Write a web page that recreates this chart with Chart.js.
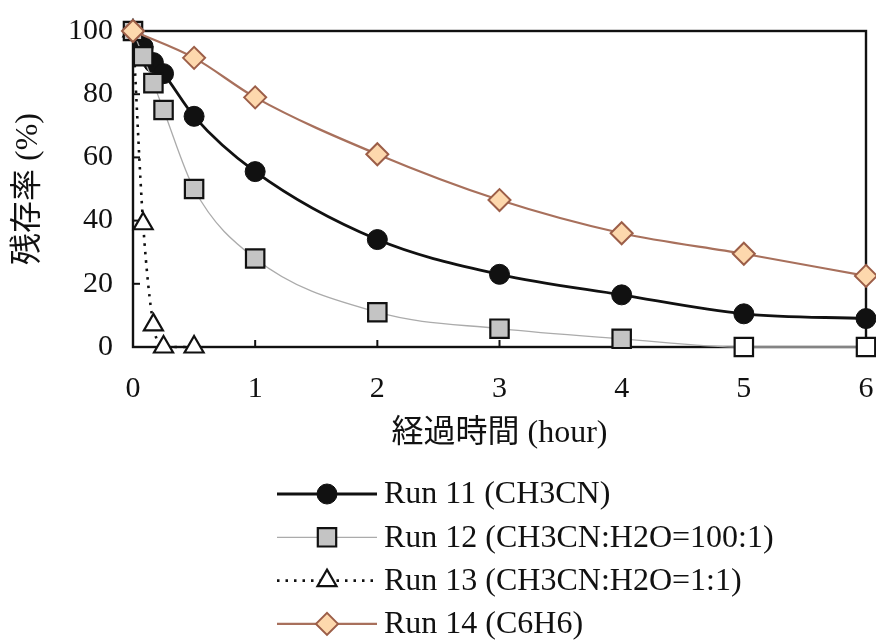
<!DOCTYPE html>
<html>
<head>
<meta charset="utf-8">
<script src="https://cdn.jsdelivr.net/npm/chart.js@4/dist/chart.umd.min.js"></script>
<style>
  html, body { margin: 0; padding: 0; background: #ffffff; }
  #wrap { width: 876px; height: 642px; position: relative; }
</style>
</head>
<body>
<div id="wrap"><canvas id="c" width="876" height="642"></canvas></div>
<script>
// Elapsed time (hour) and residual ratio (%) for each run
const run11Time  = [0, 0.083, 0.167, 0.25, 0.5, 1, 2, 3, 4, 5, 6];
const run11Value = [100, 95, 90, 86.5, 73, 55.5, 34, 23, 16.5, 10.5, 9];

const run12Time  = [0, 0.083, 0.167, 0.25, 0.5, 1, 2, 3, 4, 5, 6];
const run12Value = [100, 92, 83.5, 75, 50, 28, 11, 5.8, 2.6, 0, 0];

const run13Time  = [0, 0.083, 0.167, 0.25, 0.5];
const run13Value = [100, 39, 7, 0, 0];

const run14Time  = [0, 0.5, 1, 2, 3, 4, 5, 6];
const run14Value = [100, 91.5, 79, 61, 46.5, 36, 29.5, 22.5];

const seriesLabels = [
  'Run 11 (CH3CN)',
  'Run 12 (CH3CN:H2O=100:1)',
  'Run 13 (CH3CN:H2O=1:1)',
  'Run 14 (C6H6)'
];
const xTicks = [0, 1, 2, 3, 4, 5, 6];
const yTicks = [0, 20, 40, 60, 80, 100];
const xTitle = '経過時間 (hour)';
const yTitle = '残存率 (%)';

const toPoints = (xs, ys) => xs.map((x, i) => ({ x: x, y: ys[i] }));

const SERIF = '"Liberation Serif", "Times New Roman", "Noto Sans CJK JP", serif';
const TITLE_FONT = '"Liberation Serif", "Noto Sans CJK JP", serif';

// Squares at zero residual are drawn hollow
const run12Fill = run12Value.map(v => v === 0 ? '#ffffff' : '#c4c4c4');

const datasets = [
  {
    label: seriesLabels[0],
    data: toPoints(run11Time, run11Value),
    borderColor: '#111111', borderWidth: 2.8,
    pointStyle: 'circle', pointRadius: 10,
    pointBackgroundColor: '#111111', pointBorderColor: '#111111', pointBorderWidth: 1,
    cubicInterpolationMode: 'monotone', order: 3, clip: false
  },
  {
    label: seriesLabels[1],
    data: toPoints(run12Time, run12Value),
    borderColor: '#ababab', borderWidth: 1.3,
    pointStyle: 'rect', pointRadius: 13,
    pointBackgroundColor: run12Fill, pointBorderColor: '#111111', pointBorderWidth: 2.2,
    legendFill: '#c4c4c4',
    cubicInterpolationMode: 'monotone', order: 1, clip: false
  },
  {
    label: seriesLabels[2],
    data: toPoints(run13Time, run13Value),
    borderColor: '#111111', borderWidth: 2.6, borderDash: [2.5, 6],
    pointStyle: 'triangle', pointRadius: 11,
    pointBackgroundColor: '#ffffff', pointBorderColor: '#111111', pointBorderWidth: 2.2,
    cubicInterpolationMode: 'monotone', order: 2, clip: false
  },
  {
    label: seriesLabels[3],
    data: toPoints(run14Time, run14Value),
    borderColor: '#a8705c', borderWidth: 2.2,
    pointStyle: 'rectRot', pointRadius: 11,
    pointBackgroundColor: '#fdd8ad', pointBorderColor: '#9c5e48', pointBorderWidth: 2,
    cubicInterpolationMode: 'monotone', order: 0, clip: false
  }
];

// Box frame and inward tick marks, drawn under the data
const framePlugin = {
  id: 'frame',
  beforeDatasetsDraw(chart) {
    const { ctx, chartArea: a, scales } = chart;
    ctx.save();
    ctx.strokeStyle = '#111111';
    ctx.lineWidth = 2.4;
    ctx.strokeRect(a.left, a.top, a.right - a.left, a.bottom - a.top);
    ctx.lineWidth = 2;
    xTicks.forEach(v => {
      const px = scales.x.getPixelForValue(v);
      ctx.beginPath(); ctx.moveTo(px, a.bottom); ctx.lineTo(px, a.bottom - 7); ctx.stroke();
    });
    yTicks.forEach(v => {
      const py = scales.y.getPixelForValue(v);
      ctx.beginPath(); ctx.moveTo(a.left, py); ctx.lineTo(a.left + 7, py); ctx.stroke();
    });
    ctx.restore();
  }
};

// Single-column legend under the axis title: line sample with marker, then label
const legendPlugin = {
  id: 'runLegend',
  afterDraw(chart) {
    const { ctx } = chart;
    const x0 = 277, x1 = 377, textX = 384, top = 494, step = 43.3;
    ctx.save();
    chart.data.datasets.forEach((ds, i) => {
      const y = top + i * step;
      ctx.beginPath();
      ctx.strokeStyle = ds.borderColor;
      ctx.lineWidth = ds.borderWidth;
      ctx.setLineDash(ds.borderDash || []);
      ctx.moveTo(x0, y); ctx.lineTo(x1, y); ctx.stroke();
      ctx.setLineDash([]);
      ctx.fillStyle = ds.legendFill || (Array.isArray(ds.pointBackgroundColor) ? ds.pointBackgroundColor[0] : ds.pointBackgroundColor);
      ctx.strokeStyle = ds.pointBorderColor;
      ctx.lineWidth = ds.pointBorderWidth;
      Chart.helpers.drawPoint(ctx, {
        pointStyle: ds.pointStyle, rotation: 0,
        radius: ds.pointRadius, borderWidth: ds.pointBorderWidth
      }, (x0 + x1) / 2, y);
      ctx.fillStyle = '#111111';
      ctx.font = '32px ' + SERIF;
      ctx.textAlign = 'left';
      ctx.textBaseline = 'middle';
      ctx.fillText(ds.label, textX, y + 1);
    });
    ctx.restore();
  }
};

new Chart(document.getElementById('c'), {
  type: 'line',
  data: { datasets: datasets },
  plugins: [framePlugin, legendPlugin, {
    id: 'bg',
    beforeDraw(chart) {
      const c = chart.ctx; c.save(); c.fillStyle = '#ffffff';
      c.fillRect(0, 0, chart.width, chart.height); c.restore();
    }
  }],
  options: {
    responsive: false,
    animation: false,
    layout: { autoPadding: false, padding: { left: 0, right: 10, top: 31, bottom: 175 } },
    plugins: { legend: { display: false }, tooltip: { enabled: false } },
    scales: {
      x: {
        type: 'linear', min: 0, max: 6,
        afterBuildTicks(scale) { scale.ticks = xTicks.map(v => ({ value: v })); },
        afterFit(scale) { scale.height = 120; scale.paddingLeft = 0; scale.paddingRight = 0; },
        grid: { display: false, drawTicks: false },
        border: { display: false },
        ticks: { color: '#111111', padding: 24, font: { family: SERIF, size: 30 } },
        title: {
          display: true, text: xTitle, color: '#111111',
          font: { family: TITLE_FONT, size: 32 },
          padding: { top: 0, bottom: 14 }
        }
      },
      y: {
        type: 'linear', min: 0, max: 100,
        afterBuildTicks(scale) { scale.ticks = yTicks.map(v => ({ value: v })); },
        afterFit(scale) { scale.width = 133; scale.paddingTop = 0; scale.paddingBottom = 0; },
        grid: { display: false, drawTicks: false },
        border: { display: false },
        ticks: { color: '#111111', padding: 20, font: { family: SERIF, size: 30 } },
        title: {
          display: true, text: yTitle, color: '#111111',
          font: { family: TITLE_FONT, size: 32 },
          padding: { top: 9, bottom: 0 }
        }
      }
    }
  }
});
</script>
</body>
</html>
